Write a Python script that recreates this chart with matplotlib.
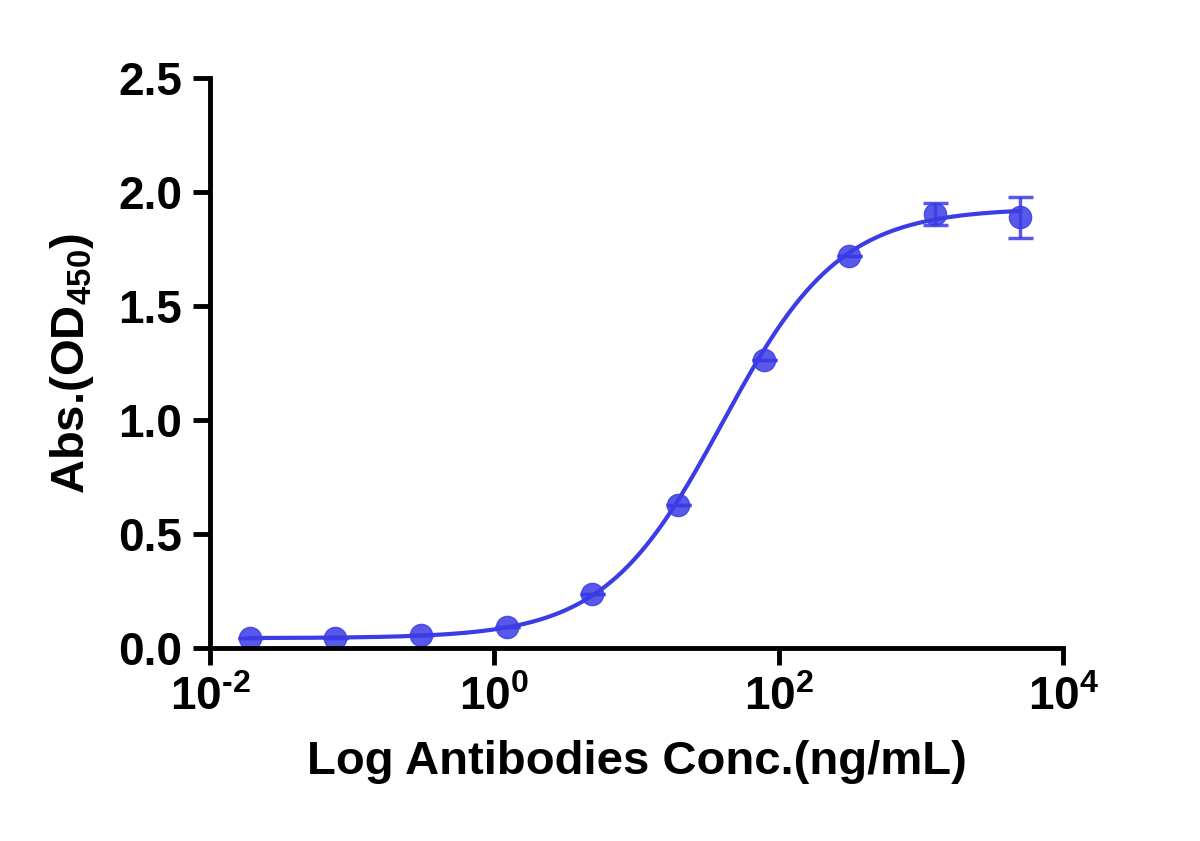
import numpy as np
import matplotlib
matplotlib.use("Agg")
import matplotlib.pyplot as plt
from matplotlib.ticker import FixedLocator, NullLocator

plt.rcParams['font.family'] = ['Liberation Sans', 'DejaVu Sans']
plt.rcParams['font.weight'] = 'bold'
plt.rcParams['mathtext.fontset'] = 'custom'
plt.rcParams['mathtext.bf'] = 'Liberation Sans:bold'
plt.rcParams['mathtext.rm'] = 'Liberation Sans:bold'

conc = [0.0191, 0.0763, 0.305, 1.22, 4.88, 19.5, 78.1, 312.5, 1250, 5000]
od = [0.045, 0.045, 0.06, 0.095, 0.24, 0.63, 1.265, 1.72, 1.905, 1.89]
err = [0, 0, 0, 0, 0, 0, 0, 0, 0.05, 0.09]
# 4PL fit parameters
bottom, top, ec50, hill = 0.045, 1.93, 40.0, 1.05

color = '#3c3ce6'
fig = plt.figure(figsize=(12, 8.41), dpi=100)
ax = fig.add_axes([0.175, 0.229, 0.711, 0.678])

xs = np.logspace(np.log10(conc[0]), np.log10(conc[-1]), 400)
ys = bottom + (top - bottom) / (1 + (ec50 / xs) ** hill)
ax.plot(xs, ys, color=color, lw=3)
ax.errorbar(conc, od, yerr=err, fmt='o', ms=16, color=color, alpha=0.85,
            ecolor=color, elinewidth=2.5, capsize=9, capthick=2.5)

ax.set_xscale('log')
ax.set_xlim(0.01, 10000)
ax.set_ylim(0, 2.5)
ax.xaxis.set_major_locator(FixedLocator([1e-2, 1, 1e2, 1e4]))
ax.xaxis.set_minor_locator(NullLocator())
ax.set_xticklabels(['10$^{\\mathbf{\\text{-}2}}$', r'10$^{\mathbf{0}}$', r'10$^{\mathbf{2}}$', r'10$^{\mathbf{4}}$'])
ax.set_yticks([0, 0.5, 1.0, 1.5, 2.0, 2.5])
ax.set_yticklabels(['0.0', '0.5', '1.0', '1.5', '2.0', '2.5'])
for s in ['top', 'right']:
    ax.spines[s].set_visible(False)
for s in ['left', 'bottom']:
    ax.spines[s].set_linewidth(3.5)
ax.tick_params(width=3.5, length=12, labelsize=33, pad=8)
ax.set_xlabel('Log Antibodies Conc.(ng/mL)', fontsize=34, fontweight='bold', labelpad=14)
ax.set_ylabel(r'Abs.(OD$_{\mathbf{450}}$)', fontsize=34, fontweight='bold', labelpad=16)
fig.savefig('out.png', dpi=100)
